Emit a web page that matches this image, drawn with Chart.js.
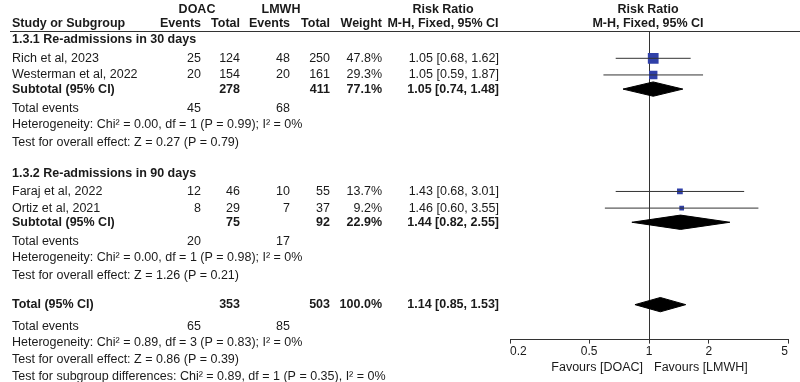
<!DOCTYPE html>
<html>
<head>
<meta charset="utf-8">
<script src="https://cdn.jsdelivr.net/npm/chart.js@4.4.1/dist/chart.umd.min.js"></script>
<style>
  html, body { margin: 0; padding: 0; background: #fff; }
  #wrap { width: 800px; height: 382px; }
</style>
</head>
<body>
<div id="wrap"><canvas id="forest" width="800" height="382"></canvas></div>
<script>
/* ── Study level data ── */
var studyNames   = ['Rich et al, 2023', 'Westerman et al, 2022', 'Faraj et al, 2022', 'Ortiz et al, 2021'];
var studyGroup   = [0, 0, 1, 1];
var doacEvents   = [25, 20, 12, 8];
var doacTotal    = [124, 154, 46, 29];
var lmwhEvents   = [48, 20, 10, 7];
var lmwhTotal    = [250, 161, 55, 37];
var studyWeight  = [47.8, 29.3, 13.7, 9.2];
var studyRR      = [1.05, 1.05, 1.43, 1.46];
var studyLow     = [0.68, 0.59, 0.68, 0.60];
var studyHigh    = [1.62, 1.87, 3.01, 3.55];

/* ── Subgroup data ── */
var groupNames       = ['1.3.1 Re-admissions in 30 days', '1.3.2 Re-admissions in 90 days'];
var groupDoacTotal   = [278, 75];
var groupLmwhTotal   = [411, 92];
var groupWeight      = [77.1, 22.9];
var groupRR          = [1.05, 1.44];
var groupLow         = [0.74, 0.82];
var groupHigh        = [1.48, 2.55];
var groupDoacEvents  = [45, 20];
var groupLmwhEvents  = [68, 17];
var groupHetero      = ['Heterogeneity: Chi\u00b2 = 0.00, df = 1 (P = 0.99); I\u00b2 = 0%',
                        'Heterogeneity: Chi\u00b2 = 0.00, df = 1 (P = 0.98); I\u00b2 = 0%'];
var groupEffect      = ['Test for overall effect: Z = 0.27 (P = 0.79)',
                        'Test for overall effect: Z = 1.26 (P = 0.21)'];

/* ── Overall data ── */
var totalDoac        = [353];
var totalLmwh        = [503];
var totalWeight      = [100.0];
var totalRR          = [1.14];
var totalLow         = [0.85];
var totalHigh        = [1.53];
var totalDoacEvents  = [65];
var totalLmwhEvents  = [85];
var totalHetero      = 'Heterogeneity: Chi\u00b2 = 0.89, df = 3 (P = 0.83); I\u00b2 = 0%';
var totalEffect      = 'Test for overall effect: Z = 0.86 (P = 0.39)';
var subgroupDiff     = 'Test for subgroup differences: Chi\u00b2 = 0.89, df = 1 (P = 0.35), I\u00b2 = 0%';

/* ── Axis ── */
var xTicks      = [0.2, 0.5, 1, 2, 5];
var favourLeft  = 'Favours [DOAC]';
var favourRight = 'Favours [LMWH]';

/* ── Layout (row slots, x columns) ── */
var ROW_TOP = 0.46, ROW_AXIS = 19.0, DIAMOND_HALF = 0.43;
var FONT = '"Liberation Sans", Arial, sans-serif';
var FONT_SIZE = 12.5;
var INK = '#1a1a1a';
var COL = { name: 12, dEv: 201, dTot: 240, lEv: 290, lTot: 330, wt: 382, rr: 499, rrHead: 443, plotHead: 648 };

function groupBase(g) { return 1 + 8 * g; }
function studyRow(i) {
    var k = 0;
    for (var j = 0; j < i; j++) if (studyGroup[j] === studyGroup[i]) k++;
    return groupBase(studyGroup[i]) + 1.1 + k;
}
function subtotalRow(g) { return groupBase(g) + 2.95; }
var TOTAL_ROW = 16.9;

function ciText(rr, lo, hi) { return rr.toFixed(2) + ' [' + lo.toFixed(2) + ', ' + hi.toFixed(2) + ']'; }

/* ── Datasets ── */
var datasets = [];

// confidence interval whiskers
studyNames.forEach(function (n, i) {
    datasets.push({
        data: [{ x: studyLow[i], y: studyRow(i) }, { x: studyHigh[i], y: studyRow(i) }],
        showLine: true, borderColor: '#333', borderWidth: 1, pointRadius: 0
    });
});

// weighted squares
datasets.push({
    data: studyNames.map(function (n, i) { return { x: studyRR[i], y: studyRow(i) }; }),
    pointStyle: 'rect',
    pointRadius: studyWeight.map(function (w) { return 1.1 * Math.sqrt(w); }),
    backgroundColor: '#3040a8', borderWidth: 0
});

// diamonds (subtotals + total)
function diamond(rr, lo, hi, row) {
    return {
        data: [{ x: lo, y: row }, { x: rr, y: row - DIAMOND_HALF }, { x: hi, y: row },
               { x: rr, y: row + DIAMOND_HALF }, { x: lo, y: row }],
        showLine: true, fill: 'shape', backgroundColor: '#000', borderColor: '#000',
        borderWidth: 1, pointRadius: 0, tension: 0
    };
}
groupNames.forEach(function (n, g) { datasets.push(diamond(groupRR[g], groupLow[g], groupHigh[g], subtotalRow(g))); });
datasets.push(diamond(totalRR[0], totalLow[0], totalHigh[0], TOTAL_ROW));

/* ── Table text plugin ── */
var tablePlugin = {
    id: 'forestTable',
    afterDraw: function (chart) {
        var ctx = chart.ctx, ys = chart.scales.y, xs = chart.scales.x, area = chart.chartArea;
        function put(txt, x, row, align, bold) {
            ctx.font = (bold ? 'bold ' : '') + FONT_SIZE + 'px ' + FONT;
            ctx.textAlign = align;
            ctx.fillText(String(txt), x, ys.getPixelForValue(row));
        }
        ctx.save();
        ctx.fillStyle = INK;
        ctx.textBaseline = 'middle';

        // headers
        put('DOAC', 197, -0.85, 'center', true);
        put('LMWH', 281, -0.85, 'center', true);
        put('Risk Ratio', COL.rrHead, -0.85, 'center', true);
        put('Risk Ratio', COL.plotHead, -0.85, 'center', true);
        put('Study or Subgroup', COL.name, 0, 'left', true);
        put('Events', COL.dEv, 0, 'right', true);
        put('Total', COL.dTot, 0, 'right', true);
        put('Events', COL.lEv, 0, 'right', true);
        put('Total', COL.lTot, 0, 'right', true);
        put('Weight', COL.wt, 0, 'right', true);
        put('M-H, Fixed, 95% CI', COL.rrHead, 0, 'center', true);
        put('M-H, Fixed, 95% CI', COL.plotHead, 0, 'center', true);

        ctx.strokeStyle = '#333';
        ctx.lineWidth = 1;
        ctx.beginPath();
        ctx.moveTo(10, Math.round(area.top) + 0.5);
        ctx.lineTo(800, Math.round(area.top) + 0.5);
        ctx.stroke();

        // subgroups
        groupNames.forEach(function (name, g) {
            var b = groupBase(g);
            put(name, COL.name, b, 'left', true);
            studyNames.forEach(function (s, i) {
                if (studyGroup[i] !== g) return;
                var r = studyRow(i);
                put(s, COL.name, r, 'left');
                put(doacEvents[i], COL.dEv, r, 'right');
                put(doacTotal[i], COL.dTot, r, 'right');
                put(lmwhEvents[i], COL.lEv, r, 'right');
                put(lmwhTotal[i], COL.lTot, r, 'right');
                put(studyWeight[i].toFixed(1) + '%', COL.wt, r, 'right');
                put(ciText(studyRR[i], studyLow[i], studyHigh[i]), COL.rr, r, 'right');
            });
            var sr = subtotalRow(g);
            put('Subtotal (95% CI)', COL.name, sr, 'left', true);
            put(groupDoacTotal[g], COL.dTot, sr, 'right', true);
            put(groupLmwhTotal[g], COL.lTot, sr, 'right', true);
            put(groupWeight[g].toFixed(1) + '%', COL.wt, sr, 'right', true);
            put(ciText(groupRR[g], groupLow[g], groupHigh[g]), COL.rr, sr, 'right', true);
            put('Total events', COL.name, b + 4.1, 'left');
            put(groupDoacEvents[g], COL.dEv, b + 4.1, 'right');
            put(groupLmwhEvents[g], COL.lEv, b + 4.1, 'right');
            put(groupHetero[g], COL.name, b + 5.1, 'left');
            put(groupEffect[g], COL.name, b + 6.15, 'left');
        });

        // overall
        put('Total (95% CI)', COL.name, TOTAL_ROW, 'left', true);
        put(totalDoac[0], COL.dTot, TOTAL_ROW, 'right', true);
        put(totalLmwh[0], COL.lTot, TOTAL_ROW, 'right', true);
        put(totalWeight[0].toFixed(1) + '%', COL.wt, TOTAL_ROW, 'right', true);
        put(ciText(totalRR[0], totalLow[0], totalHigh[0]), COL.rr, TOTAL_ROW, 'right', true);
        put('Total events', COL.name, 18.2, 'left');
        put(totalDoacEvents[0], COL.dEv, 18.2, 'right');
        put(totalLmwhEvents[0], COL.lEv, 18.2, 'right');
        put(totalHetero, COL.name, 19.2, 'left');
        put(totalEffect, COL.name, 20.2, 'left');
        put(subgroupDiff, COL.name, 21.2, 'left');

        // favours labels under axis
        var x1 = xs.getPixelForValue(1);
        put(favourLeft, x1 - 6, 20.65, 'right');
        put(favourRight, x1 + 5, 20.65, 'left');
        ctx.restore();
    }
};

new Chart(document.getElementById('forest'), {
    type: 'scatter',
    data: { datasets: datasets },
    options: {
        responsive: false,
        animation: false,
        devicePixelRatio: 1,
        layout: { padding: { left: 510, right: 12, top: 31, bottom: 22 } },
        plugins: { legend: { display: false }, tooltip: { enabled: false } },
        scales: {
            x: {
                type: 'logarithmic',
                min: xTicks[0],
                max: xTicks[xTicks.length - 1],
                afterBuildTicks: function (axis) { axis.ticks = xTicks.map(function (v) { return { value: v }; }); },
                border: { display: true, color: '#333', width: 1 },
                grid: {
                    drawOnChartArea: true,
                    color: function (c) { return c.tick && c.tick.value === 1 ? '#333' : 'rgba(0,0,0,0)'; },
                    tickColor: '#333',
                    tickLength: 4
                },
                ticks: {
                    autoSkip: false, maxRotation: 0, align: 'inner', padding: 1,
                    color: INK, font: { family: FONT, size: 12 },
                    callback: function (v) { return String(v); }
                }
            },
            y: {
                type: 'linear', display: false, reverse: true,
                min: ROW_TOP, max: ROW_AXIS
            }
        }
    },
    plugins: [tablePlugin]
});
</script>
</body>
</html>
